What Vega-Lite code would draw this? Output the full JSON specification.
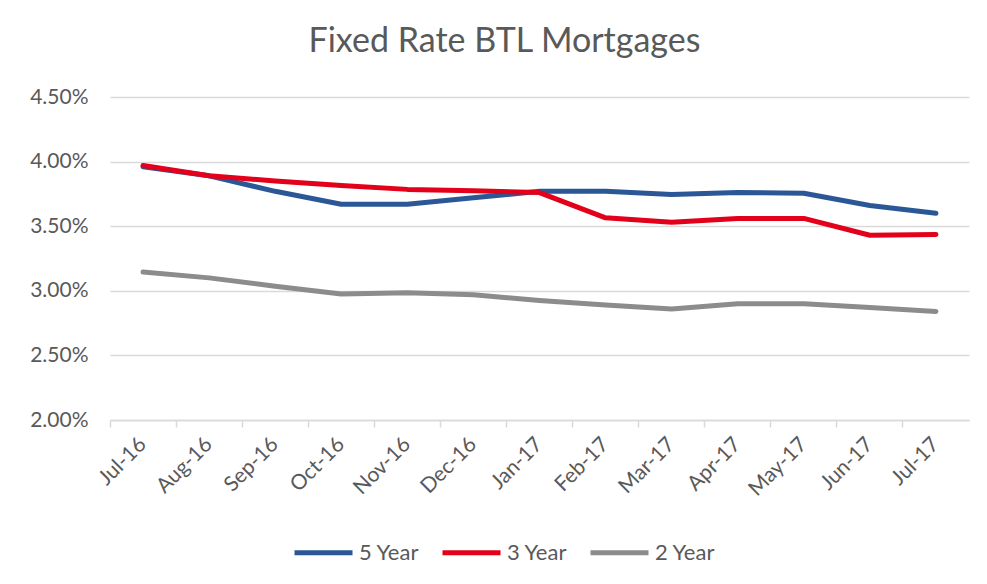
{
  "$schema": "https://vega.github.io/schema/vega-lite/v6.json",
  "autosize": "none",
  "width": 859,
  "height": 323,
  "padding": {"left": 110, "top": 97, "right": 18, "bottom": 164},
  "background": "white",
  "title": {
    "text": "Fixed Rate BTL Mortgages",
    "font": "Lato",
    "fontSize": 34,
    "fontWeight": "normal",
    "color": "#595959",
    "offset": 27,
    "dx": -35
  },
  "data": {
    "values": [
      {"month": "Jul-16", "series": "5 Year", "rate": 3.96},
      {"month": "Aug-16", "series": "5 Year", "rate": 3.89},
      {"month": "Sep-16", "series": "5 Year", "rate": 3.77},
      {"month": "Oct-16", "series": "5 Year", "rate": 3.67},
      {"month": "Nov-16", "series": "5 Year", "rate": 3.67},
      {"month": "Dec-16", "series": "5 Year", "rate": 3.72},
      {"month": "Jan-17", "series": "5 Year", "rate": 3.77},
      {"month": "Feb-17", "series": "5 Year", "rate": 3.77},
      {"month": "Mar-17", "series": "5 Year", "rate": 3.745},
      {"month": "Apr-17", "series": "5 Year", "rate": 3.76},
      {"month": "May-17", "series": "5 Year", "rate": 3.755},
      {"month": "Jun-17", "series": "5 Year", "rate": 3.66},
      {"month": "Jul-17", "series": "5 Year", "rate": 3.6},
      {"month": "Jul-16", "series": "3 Year", "rate": 3.97},
      {"month": "Aug-16", "series": "3 Year", "rate": 3.89},
      {"month": "Sep-16", "series": "3 Year", "rate": 3.85},
      {"month": "Oct-16", "series": "3 Year", "rate": 3.815},
      {"month": "Nov-16", "series": "3 Year", "rate": 3.785},
      {"month": "Dec-16", "series": "3 Year", "rate": 3.775},
      {"month": "Jan-17", "series": "3 Year", "rate": 3.76},
      {"month": "Feb-17", "series": "3 Year", "rate": 3.565},
      {"month": "Mar-17", "series": "3 Year", "rate": 3.53},
      {"month": "Apr-17", "series": "3 Year", "rate": 3.56},
      {"month": "May-17", "series": "3 Year", "rate": 3.56},
      {"month": "Jun-17", "series": "3 Year", "rate": 3.43},
      {"month": "Jul-17", "series": "3 Year", "rate": 3.435},
      {"month": "Jul-16", "series": "2 Year", "rate": 3.145},
      {"month": "Aug-16", "series": "2 Year", "rate": 3.1},
      {"month": "Sep-16", "series": "2 Year", "rate": 3.035},
      {"month": "Oct-16", "series": "2 Year", "rate": 2.975},
      {"month": "Nov-16", "series": "2 Year", "rate": 2.985},
      {"month": "Dec-16", "series": "2 Year", "rate": 2.97},
      {"month": "Jan-17", "series": "2 Year", "rate": 2.925},
      {"month": "Feb-17", "series": "2 Year", "rate": 2.89},
      {"month": "Mar-17", "series": "2 Year", "rate": 2.86},
      {"month": "Apr-17", "series": "2 Year", "rate": 2.9},
      {"month": "May-17", "series": "2 Year", "rate": 2.9},
      {"month": "Jun-17", "series": "2 Year", "rate": 2.87},
      {"month": "Jul-17", "series": "2 Year", "rate": 2.84}
    ]
  },
  "mark": {"type": "line", "strokeWidth": 5, "strokeCap": "round", "strokeJoin": "round"},
  "encoding": {
    "x": {
      "field": "month",
      "type": "ordinal",
      "sort": null,
      "bandPosition": 0.5,
      "scale": {"type": "band", "paddingInner": 0, "paddingOuter": 0},
      "axis": {
        "title": null,
        "bandPosition": 0,
        "labelAngle": -45,
        "labelAlign": "right",
        "labelBaseline": "middle",
        "labelPadding": 14,
        "labelFont": "Lato",
        "labelFontSize": 21,
        "labelColor": "#595959",
        "domainColor": "#D9D9D9",
        "domainWidth": 1.5,
        "tickColor": "#D9D9D9",
        "tickWidth": 1.5,
        "tickSize": 7,
        "grid": false
      }
    },
    "y": {
      "field": "rate",
      "type": "quantitative",
      "scale": {"domain": [2.0, 4.5], "nice": false, "zero": false},
      "axis": {
        "title": null,
        "values": [2.0, 2.5, 3.0, 3.5, 4.0, 4.5],
        "labelExpr": "format(datum.value, '.2f') + '%'",
        "labelFont": "Lato",
        "labelFontSize": 21,
        "labelColor": "#595959",
        "labelPadding": 22,
        "ticks": false,
        "domain": false,
        "grid": true,
        "gridColor": "#D9D9D9",
        "gridWidth": 1.5
      }
    },
    "color": {
      "field": "series",
      "type": "nominal",
      "sort": ["5 Year", "3 Year", "2 Year"],
      "scale": {"domain": ["5 Year", "3 Year", "2 Year"], "range": ["#2B5797", "#E2001A", "#8C8C8C"]},
      "legend": {
        "title": null,
        "orient": "none",
        "direction": "horizontal",
        "legendX": 182,
        "legendY": 424,
        "symbolType": "stroke",
        "symbolSize": 3364,
        "symbolStrokeWidth": 5,
        "labelFont": "Lato",
        "labelFontSize": 22,
        "labelColor": "#595959",
        "labelOffset": 4,
        "columnPadding": 12
      }
    },
    "order": {"field": "series"}
  },
  "config": {
    "view": {"stroke": null}
  }
}
